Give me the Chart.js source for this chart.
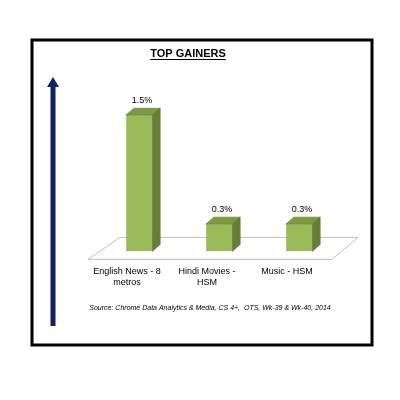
<!DOCTYPE html>
<html>
<head>
<meta charset="utf-8">
<script src="https://cdn.jsdelivr.net/npm/chart.js@4"></script>
<style>
  html, body { margin: 0; padding: 0; background: #fff; }
  #wrap { width: 400px; height: 400px; }
</style>
</head>
<body>
<div id="wrap"><canvas id="myChart"></canvas></div>
<script>
const categories = [['English News - 8', 'metros'], ['Hindi Movies -', 'HSM'], ['Music - HSM']];
const gains = [1.5, 0.3, 0.3];
const yTicks = [0, 0.6, 1.2, 1.8];

const chartTitle = 'TOP GAINERS';
const sourceNote = 'Source: Chrome Data Analytics & Media, CS 4+,  OTS, Wk-39 & Wk-40, 2014';

const DX = 8, DY = 7;

// frame, arrow, floor and texts around the bars
const decor = {
    id: 'decor',
    beforeDatasetsDraw(chart) {
        const ctx = chart.ctx;
        const x = chart.scales.x;
        const y0 = chart.scales.y.getPixelForValue(0);
        ctx.save();
        // floor
        ctx.beginPath();
        ctx.moveTo(x.left - 11, y0 + 8);
        ctx.lineTo(x.right - 7, y0 + 8);
        ctx.lineTo(x.right + 19, y0 - 14);
        ctx.lineTo(x.left + 21, y0 - 14);
        ctx.closePath();
        ctx.fillStyle = '#fff';
        ctx.fill();
        ctx.strokeStyle = '#bfbfbf';
        ctx.lineWidth = 1;
        ctx.stroke();
        ctx.restore();
    },
    afterDatasetsDraw(chart) {
        const ctx = chart.ctx;
        const meta = chart.getDatasetMeta(0);
        ctx.save();
        meta.data.forEach((bar, i) => {
            const w = bar.width;
            const l = bar.x - w / 2, r = bar.x + w / 2;
            const t = bar.y, b = bar.base;
            // top face
            ctx.beginPath();
            ctx.moveTo(l, t);
            ctx.lineTo(l + DX, t - DY);
            ctx.lineTo(r + DX, t - DY);
            ctx.lineTo(r, t);
            ctx.closePath();
            ctx.fillStyle = '#7b9a41';
            ctx.fill();
            ctx.strokeStyle = '#5c7530';
            ctx.lineWidth = 0.6;
            ctx.stroke();
            // side face
            ctx.beginPath();
            ctx.moveTo(r, t);
            ctx.lineTo(r + DX, t - DY);
            ctx.lineTo(r + DX, b - DY);
            ctx.lineTo(r, b);
            ctx.closePath();
            ctx.fillStyle = '#667f35';
            ctx.fill();
            ctx.stroke();
            // value label
            ctx.fillStyle = '#000';
            ctx.font = '9px "Liberation Sans"';
            ctx.textAlign = 'center';
            ctx.textBaseline = 'bottom';
            ctx.fillText(gains[i].toFixed(1) + '%', bar.x + 3, t - DY - 3);
        });
        ctx.restore();
    },
    afterDraw(chart) {
        const ctx = chart.ctx;
        ctx.save();
        // outer frame
        ctx.strokeStyle = '#000';
        ctx.lineWidth = 3;
        ctx.strokeRect(32, 40, 340, 305);
        // arrow
        ctx.fillStyle = '#0c2461';
        ctx.fillRect(50.5, 86, 5, 240);
        ctx.beginPath();
        ctx.moveTo(53, 77);
        ctx.lineTo(59, 87);
        ctx.lineTo(47, 87);
        ctx.closePath();
        ctx.fill();
        // title
        ctx.fillStyle = '#000';
        ctx.font = 'bold 11px "Liberation Sans"';
        ctx.textAlign = 'center';
        ctx.textBaseline = 'alphabetic';
        ctx.fillText(chartTitle, 188, 57);
        const tw = ctx.measureText(chartTitle).width;
        ctx.fillRect(188 - tw / 2, 59, tw, 1);
        // source
        ctx.font = 'italic 7px "Liberation Sans"';
        ctx.fillText(sourceNote, 210, 310);
        ctx.restore();
    }
};

const data = {
    labels: categories,
    datasets: [{
        data: gains,
        backgroundColor: '#9bbb59',
        borderColor: '#7f9c47',
        borderWidth: 0.6,
        barPercentage: 0.33,
        categoryPercentage: 1
    }]
};

const config = {
    type: 'bar',
    data: data,
    options: {
        responsive: false,
        animation: false,
        layout: { padding: { left: 99, right: 61, top: 88, bottom: 97 } },
        plugins: {
            legend: { display: false },
            title: { display: false },
            tooltip: { enabled: false }
        },
        scales: {
            x: {
                grid: { display: false, drawTicks: false },
                border: { display: false },
                ticks: {
                    color: '#000',
                    font: { family: 'Liberation Sans', size: 9 },
                    padding: 15,
                    labelOffset: -12,
                    maxRotation: 0,
                    autoSkip: false
                }
            },
            y: {
                display: false,
                min: 0,
                max: 1.8,
                afterBuildTicks: s => { s.ticks = yTicks.map(v => ({ value: v })); },
                afterFit: s => { s.width = 0; }
            }
        }
    },
    plugins: [decor]
};

const canvas = document.getElementById('myChart');
canvas.width = 400;
canvas.height = 400;
canvas.style.width = '400px';
canvas.style.height = '400px';
const myChart = new Chart(canvas, config);
</script>
</body>
</html>
